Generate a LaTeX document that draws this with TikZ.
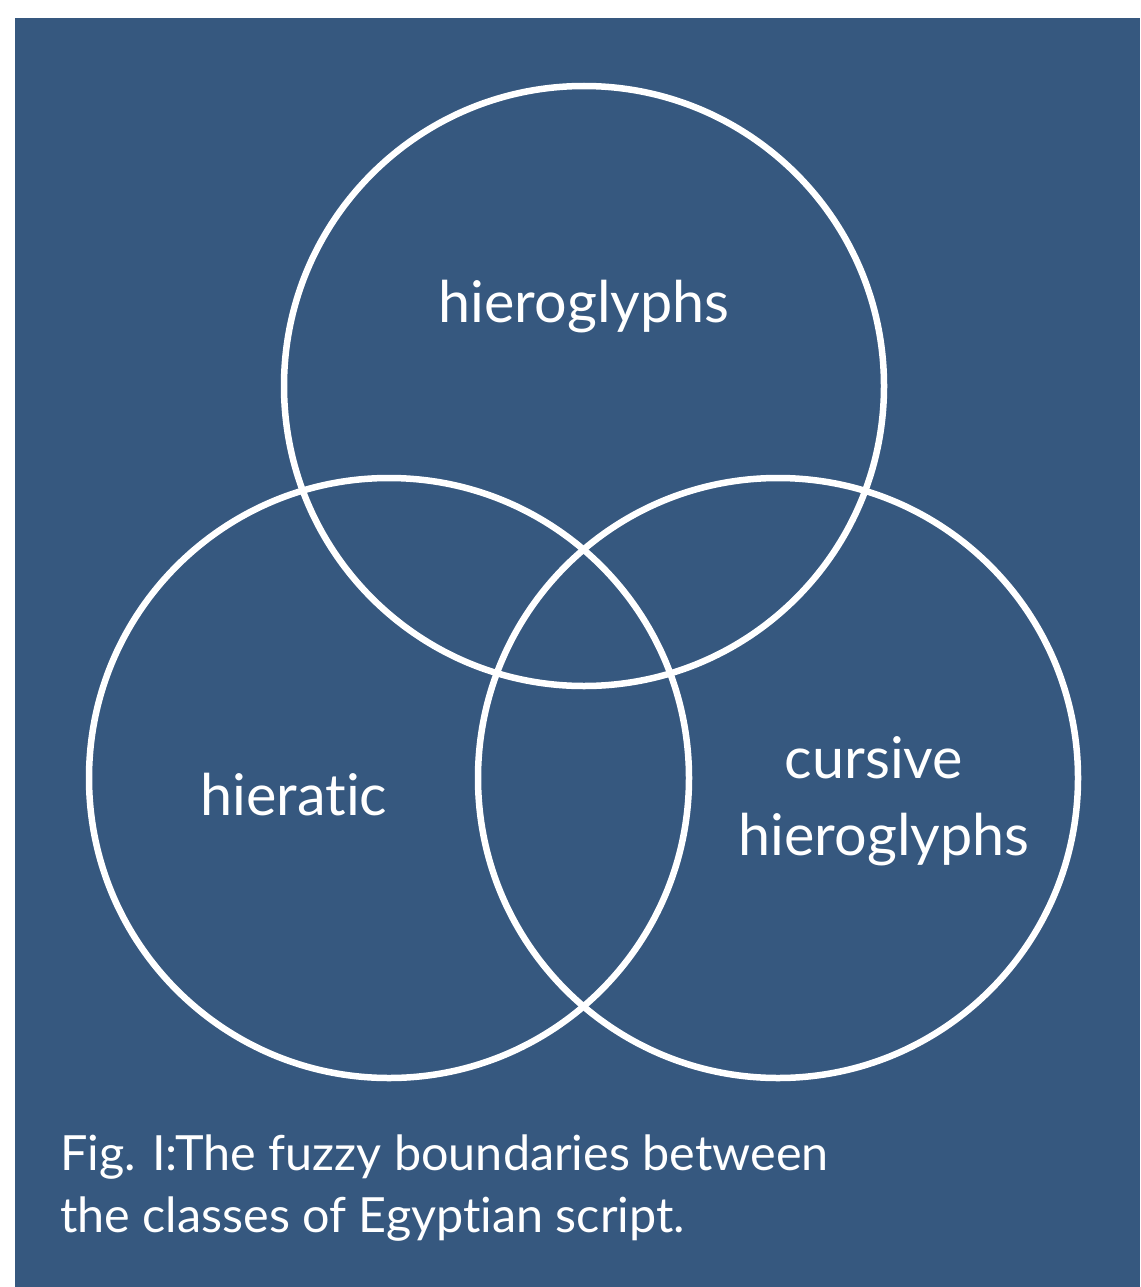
\documentclass[tikz,border=0pt]{standalone}
\usepackage{fontspec}
\setmainfont[Ligatures=CommonOff]{Lato}
\definecolor{bg}{HTML}{36587F}
\begin{document}
\begin{tikzpicture}[x=1pt,y=-1pt,
  ring/.style={draw=white,line width=6.5pt},
  lbl/.style={text=white,font=\fontsize{57.5}{60}\selectfont,anchor=base,inner sep=0pt},
  captext/.style={text=white,font=\fontsize{48.5}{62}\selectfont,anchor=base west,inner sep=0pt}]
\useasboundingbox (0,0) rectangle (1140,1287);
\fill[bg] (15,18) rectangle (1140,1287);
\draw[ring] (584,386) circle[radius=300];
\draw[ring] (389,778) circle[radius=300];
\draw[ring] (778,778) circle[radius=300];
\node[lbl] (h) at (584,322) {hieroglyphs};
\node[lbl] (hr) at (294,815) {hieratic};
\node[lbl] (c1) at (874,778) {cursive};
\node[lbl] (c2) at (884,855) {hieroglyphs};
\node[captext] (f1) at (60,1170) {Fig. I:The fuzzy boundaries between};
\node[captext] (f2) at (60,1232) {the classes of Egyptian script.};
\end{tikzpicture}
\end{document}
